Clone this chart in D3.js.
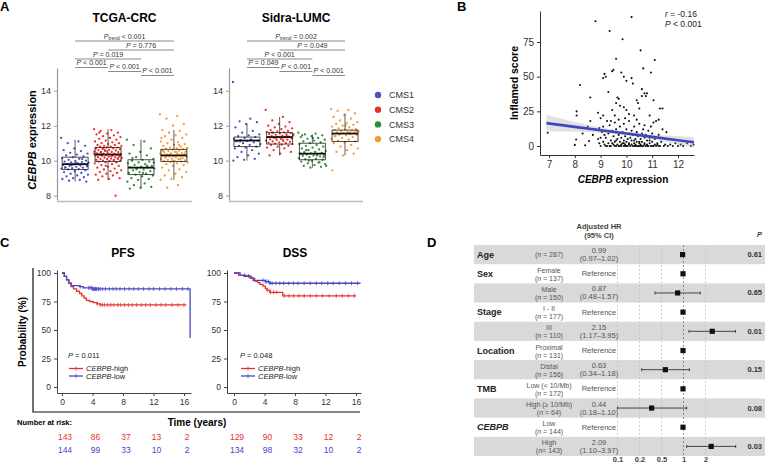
<!DOCTYPE html>
<html>
<head>
<meta charset="utf-8">
<script src="https://cdn.jsdelivr.net/npm/d3@7"></script>
<style>
  body { margin: 0; background: #fff; }
  svg { font-family: "Liberation Sans", Arial, sans-serif; display: block; }
</style>
</head>
<body>
<div id="chart"></div>
<script>
/* ---------- data ---------- */

const cmsGroups = ["CMS1", "CMS2", "CMS3", "CMS4"];
const cmsColors = ["#4b4fc4", "#e8302c", "#2f8a3a", "#f59a2c"];

// TCGA-CRC box stats: q1, median, q3, whisker ends
const tcgaQ1  = [9.5, 9.95, 9.2, 9.95];
const tcgaMed = [9.8, 10.35, 9.6, 10.3];
const tcgaQ3  = [10.2, 10.75, 10.05, 10.65];
const tcgaLo  = [8.8, 8.9, 8.4, 8.9];
const tcgaHi  = [11.2, 11.8, 11.2, 11.75];

const tcgaCms1 = [11.3,11.1,11.0,10.85,10.7,10.6,10.55,10.45,10.4,10.35,10.3,10.25,10.2,10.15,10.1,10.05,10.0,9.98,9.95,9.92,9.9,9.88,9.85,9.82,9.8,9.78,9.75,9.72,9.7,9.68,9.65,9.62,9.6,9.57,9.55,9.52,9.5,9.45,9.4,9.35,9.3,9.25,9.2,9.15,9.1,9.05,9.0,8.95,8.9,8.85,8.8,9.88,9.6,10.1,9.75];
const tcgaCms2 = [11.8,11.75,11.7,11.6,11.55,11.5,11.45,11.4,11.35,11.3,11.25,11.2,11.15,11.1,11.05,11.0,11.0,10.95,10.9,10.9,10.85,10.85,10.8,10.8,10.75,10.75,10.7,10.7,10.68,10.65,10.62,10.6,10.58,10.55,10.52,10.5,10.5,10.48,10.45,10.42,10.4,10.4,10.38,10.36,10.35,10.34,10.32,10.3,10.3,10.28,10.25,10.22,10.2,10.2,10.18,10.15,10.12,10.1,10.1,10.08,10.05,10.02,10.0,10.0,9.98,9.95,9.92,9.9,9.85,9.8,9.75,9.7,9.65,9.6,9.55,9.5,9.45,9.4,9.35,9.3,9.25,9.2,9.15,9.1,9.0,8.95,8.9,8.0,10.6,10.4,10.25,10.45,10.15,10.55,10.35,10.05,10.7,10.3,11.3,11.6,9.9,9.7];
const tcgaCms3 = [11.2,11.1,10.9,10.7,10.5,10.4,10.3,10.2,10.1,10.05,10.0,9.95,9.9,9.85,9.8,9.75,9.7,9.65,9.62,9.6,9.58,9.55,9.5,9.45,9.4,9.35,9.3,9.25,9.2,9.15,9.1,9.0,8.95,8.9,8.8,8.7,8.6,8.5,8.45,8.4,9.7,9.5,9.9,9.3,10.15];
const tcgaCms4 = [12.65,12.55,12.4,12.1,12.0,11.75,11.7,11.6,11.5,11.45,11.4,11.3,11.2,11.1,11.05,11.0,10.95,10.9,10.85,10.8,10.75,10.72,10.7,10.68,10.65,10.62,10.6,10.58,10.55,10.52,10.5,10.48,10.45,10.42,10.4,10.38,10.35,10.33,10.3,10.3,10.28,10.25,10.22,10.2,10.18,10.15,10.12,10.1,10.08,10.05,10.02,10.0,9.98,9.95,9.92,9.9,9.85,9.8,9.75,9.7,9.6,9.5,9.45,9.35,9.25,9.15,9.05,8.95,8.9,8.6,8.45,10.4,10.25,10.55,10.1,10.35,10.7,10.5,10.2,10.3,10.0,11.3,10.9];

// Sidra-LUMC box stats
const sidraQ1  = [10.8, 10.95, 10.05, 11.1];
const sidraMed = [11.15, 11.35, 10.4, 11.55];
const sidraQ3  = [11.35, 11.6, 11.0, 11.75];
const sidraLo  = [10.0, 10.3, 9.6, 10.3];
const sidraHi  = [12.1, 12.5, 11.5, 12.7];

const sidraCms1 = [14.5,12.4,12.25,12.2,12.1,11.9,11.7,11.6,11.5,11.45,11.4,11.35,11.3,11.25,11.2,11.18,11.15,11.12,11.1,11.05,11.0,10.95,10.9,10.85,10.8,10.75,10.7,10.6,10.5,10.4,10.3,10.2,10.1,10.05,10.0,11.2,11.1];
const sidraCms2 = [12.9,12.5,12.3,12.2,12.1,12.0,11.95,11.9,11.85,11.8,11.75,11.7,11.68,11.65,11.62,11.6,11.58,11.55,11.52,11.5,11.48,11.45,11.42,11.4,11.38,11.36,11.35,11.33,11.3,11.28,11.25,11.22,11.2,11.18,11.15,11.12,11.1,11.08,11.05,11.02,11.0,10.98,10.95,10.92,10.9,10.85,10.8,10.75,10.7,10.6,10.5,10.4,10.3,11.4,11.3,11.5,11.2,11.6];
const sidraCms3 = [11.6,11.55,11.5,11.45,11.4,11.35,11.3,11.25,11.2,11.15,11.1,11.05,11.0,10.95,10.9,10.85,10.8,10.75,10.7,10.65,10.6,10.55,10.5,10.48,10.45,10.42,10.4,10.38,10.35,10.32,10.3,10.28,10.25,10.2,10.15,10.1,10.08,10.05,10.0,9.95,9.9,9.85,9.8,9.75,9.7,9.65,9.6,10.4,10.3,10.6,10.2,11.3,11.45,9.9,10.0,9.7];
const sidraCms4 = [12.95,12.9,12.85,12.7,12.6,12.5,12.4,12.3,12.2,12.15,12.1,12.05,12.0,11.95,11.9,11.85,11.8,11.78,11.75,11.72,11.7,11.68,11.65,11.62,11.6,11.58,11.55,11.52,11.5,11.48,11.45,11.4,11.35,11.3,11.25,11.2,11.15,11.1,11.05,11.0,10.9,10.8,10.7,10.6,10.5,10.4,10.3,9.45,11.6,11.5,11.7,12.0,11.4];

// comparison brackets: group pairs and p-value texts
const bracketPairs = [[0,3],[1,3],[0,2],[0,1],[1,2],[2,3]];
const tcgaPvals  = ["< 0.001", "= 0.776", "= 0.019", "< 0.001", "< 0.001", "< 0.001"];
const sidraPvals = ["= 0.002", "= 0.049", "< 0.001", "= 0.049", "< 0.001", "< 0.001"];

// panel B: CEBPB expression vs inflamed score
const inflamedPoints = [
  [8.8,90],[10.2,93],[9.35,83],[9.85,77],[10.55,69],[9.6,63],[11.1,62],[9.5,55],[9.45,54],[9.8,53],
  [10.65,56],[10.95,53],[9.15,52],[9.2,50],[9.1,49],[10.0,47],[9.9,50],[10.2,49],[10.25,45],[8.2,44],
  [9.3,39],[8.6,35],[9.65,35],[9.7,34],[9.6,31],[9.75,29],[10.6,41],[10.7,38],[10.75,36],[10.6,36],
  [10.8,38],[11.05,33],[11.3,27],[11.4,27],[8.07,25],[8.07,22],[8.9,24],[9.1,22],[10.4,33],[10.45,31],
  [10.3,22],[10.9,22],[11.15,18],[11.25,19],[10.0,26],[10.1,23],[9.55,22],[9.45,26],[9.9,28],[10.5,27],
  [9.0,20],[9.25,18],
  [8.7,8],[8.8,12],[8.9,5],[8.95,2],[9.0,0],[9.05,10],[9.1,3],[9.1,14],[9.15,1],[9.2,6],
  [9.25,0],[9.3,9],[9.3,2],[9.35,15],[9.4,4],[9.4,0],[9.45,11],[9.5,1],[9.5,7],[9.55,17],
  [9.55,3],[9.6,0],[9.6,12],[9.65,5],[9.65,1],[9.7,8],[9.7,19],[9.7,0],[9.75,3],[9.75,14],
  [9.8,6],[9.8,1],[9.8,0],[9.85,10],[9.85,2],[9.9,4],[9.9,0],[9.9,16],[9.95,7],[9.95,1],
  [10.0,0],[10.0,3],[10.0,12],[10.05,5],[10.05,0],[10.1,9],[10.1,2],[10.1,18],[10.15,0],[10.15,6],
  [10.2,1],[10.2,11],[10.2,4],[10.25,0],[10.25,8],[10.3,2],[10.3,14],[10.3,0],[10.35,5],[10.35,1],
  [10.4,10],[10.4,0],[10.4,3],[10.45,7],[10.45,0],[10.5,2],[10.5,16],[10.5,0],[10.55,5],[10.55,1],
  [10.6,9],[10.6,0],[10.6,3],[10.65,12],[10.65,0],[10.7,6],[10.7,2],[10.75,0],[10.75,8],[10.8,1],
  [10.8,4],[10.85,0],[10.85,11],[10.9,2],[10.9,6],[10.95,0],[11.0,3],[11.0,9],[11.05,0],[11.1,1],
  [11.1,5],[11.15,0],[11.2,2],[11.25,8],[11.3,0],[11.35,3],[11.4,12],[11.45,0],[11.5,1],[11.55,10],
  [11.6,0],[11.7,1],[11.8,0],[11.9,2],[12.0,0],[12.1,1],[12.2,0],[12.35,2],[12.5,0],[12.6,1],
  [9.2,0],[9.35,0],[9.55,0],[9.75,0],[9.95,0],[10.35,0],[10.55,0],[10.8,0],[11.0,0],[11.25,0],
  [9.45,2],[9.6,4],[9.9,2],[10.1,1],[10.3,4],[10.5,3],[10.7,1],[10.9,4],[11.2,1],[9.0,6],
  [8.95,13],[9.15,8],[9.4,18],[9.95,20],[10.4,19],[10.7,15],[10.95,14],[11.05,17],[8.5,14],[8.3,9],
  [8.6,18],[8.05,4.7],[8.0,0.8],[8.4,0.5],[8.55,3.6],[6.95,9.6]
];
// fitted regression line and its 95% band
const fitX  = [6.9, 8, 9, 10, 11, 12, 12.62];
const fitY  = [16.5, 13.8, 11.4, 9.0, 6.6, 4.2, 2.7];
const fitLo = [10.7, 10.3, 9.5, 7.8, 5.0, 1.2, -1.1];
const fitHi = [22.3, 17.3, 13.3, 10.2, 8.2, 7.2, 6.5];

// panel C: Kaplan-Meier step points (time in years, survival %)
const pfsHighT = [0,0.3,0.6,0.9,1.2,1.5,1.9,2.3,2.6,2.9,3.2,3.6,4.1,4.6,5.0];
const pfsHighS = [100,97,94,91,88,86,84,82,80,78,76,75,74,73,72];
const pfsHighEnd = 16.3;
const pfsLowT = [0,0.3,0.6,0.9,1.2,2.3,2.8,4.0,16.8];
const pfsLowS = [100,97,94,91,89,88,87,86,43];
const pfsLowEnd = 16.8;
const pfsHighCens = [4.6,5.0,5.3,5.6,6.0,6.4,6.8,7.3,7.7,8.2,8.7,9.2,9.8,10.4,11.0,11.6,12.3,13.0,13.6,14.4,15.2,16.0];
const pfsLowCens  = [2.4,3.5,3.7,3.9,4.0,4.1,4.2,4.3,4.4,4.5,4.6,4.8,5.0,5.3,5.7,6.2,6.7,7.1,7.6,8.2,8.8,9.4,10.0,10.7,11.4,12.0,12.8,13.5,14.3,15.0,15.8,16.5];

const dssHighT = [0,0.6,1.3,2.3,2.7,3.1,3.4,3.8,4.1,4.3,4.7,6.4];
const dssHighS = [100,98,97,95.5,93,91.5,90,88.5,86.5,85,83,80];
const dssHighEnd = 16.0;
const dssLowT = [0,0.8,1.6,2.1,2.5,4.1,4.7];
const dssLowS = [100,98,97.5,95.5,93.5,92.5,91];
const dssLowEnd = 16.6;
const dssHighCens = [4.4,4.8,5.2,5.6,6.6,7.2,7.8,8.5,9.2,10.0,10.8,11.6,12.5,13.4,14.2,15.0,15.8];
const dssLowCens  = [1.4,1.9,3.8,4.1,4.3,4.5,4.7,5.0,5.5,6.0,6.5,7.2,7.8,8.4,9.2,10.0,10.8,11.5,12.3,13.0,13.8,14.6,15.4,16.2];

const riskTimes = [0, 4, 8, 12, 16];
const pfsRiskHigh = [143, 86, 37, 13, 2];
const pfsRiskLow  = [144, 99, 33, 10, 2];
const dssRiskHigh = [129, 90, 33, 12, 2];
const dssRiskLow  = [134, 98, 32, 10, 2];

// panel D: multivariable Cox model
const forestVar = ["Age", "Sex", "", "Stage", "", "Location", "", "TMB", "", "CEBPB", ""];
const forestSub = [["(n = 287)"], ["Female", "(n = 137)"], ["Male", "(n = 150)"], ["I - II", "(n = 177)"],
  ["III", "(n = 110)"], ["Proximal", "(n = 131)"], ["Distal", "(n = 156)"], ["Low (< 10/Mb)", "(n = 172)"],
  ["High (\u2265 10/Mb)", "(n = 64)"], ["Low", "(n = 144)"], ["High", "(n= 143)"]];
const forestHR = [0.99, 1, 0.87, 1, 2.15, 1, 0.63, 1, 0.44, 1, 2.09];
const forestLo = [0.97, null, 0.48, null, 1.17, null, 0.34, null, 0.18, null, 1.10];
const forestHi = [1.02, null, 1.57, null, 3.95, null, 1.18, null, 1.10, null, 3.97];
const forestP  = ["0.61", "", "0.65", "", "0.01", "", "0.15", "", "0.08", "", "0.03"];
const forestTicks = ["0.1", "0.2", "0.5", "1", "2"];

/* ---------- drawing ---------- */

const svg = d3.select("#chart").append("svg")
    .attr("width", 765)
    .attr("height", 465);

function panelLabel(t, x, y) {
    svg.append("text").attr("x", x).attr("y", y)
        .attr("font-size", 13).attr("font-weight", "bold").text(t);
}

// text with an italic leading part, e.g. "CEBPB" + "-high"
function italicLead(sel, it, rest) {
    sel.append("tspan").attr("font-style", "italic").text(it);
    sel.append("tspan").text(rest);
    return sel;
}

function styleAxis(g, color, fs) {
    g.select(".domain").attr("stroke", color);
    g.selectAll(".tick line").attr("stroke", color);
    g.selectAll(".tick text").attr("fill", "#333").attr("font-size", fs)
        .attr("font-family", "Liberation Sans, Arial, sans-serif");
}

/* ===== panel A ===== */
panelLabel("A", 0, 11);

let yA = d3.scaleLinear().domain([7.75, 15.3]).range([200, 68]);
let jit = i => ((i * 0.618034) % 1 - 0.5) * 28;

function boxPanel(x0, x1, title, points, q1, med, q3, lo, hi, pvals) {
    let x = d3.scalePoint().domain(cmsGroups).range([x0, x1]).padding(0.55);
    let g = svg.append("g");

    let yAx = g.append("g")
        .attr("transform", `translate(${x0},0)`)
        .call(d3.axisLeft(yA).tickValues([8, 10, 12, 14]).tickSize(3).tickSizeOuter(0));
    styleAxis(yAx, "#999", 9);
    yAx.select(".domain").attr("stroke-width", 1.2);

    g.append("line")
        .attr("x1", x0).attr("x2", x1).attr("y1", 201.5).attr("y2", 201.5)
        .attr("stroke", "#bbb").attr("stroke-width", 1.5);

    // jittered points
    cmsGroups.forEach((c, k) => {
        g.selectAll(".pt" + k)
            .data(points[k])
            .enter().append("circle")
            .attr("cx", (d, i) => x(c) + jit(i))
            .attr("cy", d => yA(d))
            .attr("r", 1.15)
            .attr("fill", cmsColors[k]);
    });

    // boxes
    cmsGroups.forEach((c, k) => {
        let cx = x(c);
        g.append("line").attr("x1", cx).attr("x2", cx)
            .attr("y1", yA(hi[k])).attr("y2", yA(q3[k])).attr("stroke", "#333").attr("stroke-width", 0.8);
        g.append("line").attr("x1", cx).attr("x2", cx)
            .attr("y1", yA(q1[k])).attr("y2", yA(lo[k])).attr("stroke", "#333").attr("stroke-width", 0.8);
        g.append("rect")
            .attr("x", cx - 13).attr("width", 26)
            .attr("y", yA(q3[k])).attr("height", yA(q1[k]) - yA(q3[k]))
            .attr("fill", "none").attr("stroke", "#222").attr("stroke-width", 0.8);
        g.append("line").attr("x1", cx - 13).attr("x2", cx + 13)
            .attr("y1", yA(med[k])).attr("y2", yA(med[k]))
            .attr("stroke", "#111").attr("stroke-width", 1.8);
    });

    // brackets
    let levels = [41, 50, 59, 67.5, 71.5, 75.5];
    bracketPairs.forEach((p, k) => {
        let xa = x(cmsGroups[p[0]]), xb = x(cmsGroups[p[1]]);
        g.append("line").attr("x1", xa).attr("x2", xb)
            .attr("y1", levels[k]).attr("y2", levels[k])
            .attr("stroke", "#8a8a8a").attr("stroke-width", 1.2);
        let t = g.append("text")
            .attr("x", (xa + xb) / 2).attr("y", levels[k] - 2.5)
            .attr("text-anchor", "middle").attr("font-size", 7).attr("fill", "#333");
        t.append("tspan").attr("font-style", "italic").text("P");
        if (k === 0) {
            t.append("tspan").attr("font-size", 5).attr("dy", 1.5).text("trend");
            t.append("tspan").attr("dy", -1.5).text(" " + pvals[k]);
        } else {
            t.append("tspan").text(" " + pvals[k]);
        }
    });

    g.append("text")
        .attr("x", (x(cmsGroups[0]) + x(cmsGroups[3])) / 2).attr("y", 22)
        .attr("text-anchor", "middle").attr("font-size", 12).attr("font-weight", "bold")
        .text(title);
}

boxPanel(57, 192, "TCGA-CRC", [tcgaCms1, tcgaCms2, tcgaCms3, tcgaCms4],
    tcgaQ1, tcgaMed, tcgaQ3, tcgaLo, tcgaHi, tcgaPvals);
boxPanel(229, 363, "Sidra-LUMC", [sidraCms1, sidraCms2, sidraCms3, sidraCms4],
    sidraQ1, sidraMed, sidraQ3, sidraLo, sidraHi, sidraPvals);

italicLead(svg.append("text")
    .attr("transform", "translate(36,140) rotate(-90)")
    .attr("text-anchor", "middle").attr("font-size", 11).attr("font-weight", "bold"),
    "CEBPB", " expression");

// legend
let leg = svg.append("g");
cmsGroups.forEach((c, k) => {
    let ly = 95 + k * 14.7;
    leg.append("circle").attr("cx", 378).attr("cy", ly).attr("r", 3.2).attr("fill", cmsColors[k]);
    leg.append("text").attr("x", 389).attr("y", ly + 3.3)
        .attr("font-size", 9).attr("fill", "#333").text(c);
});

/* ===== panel B ===== */
panelLabel("B", 457, 11);

let xB = d3.scaleLinear().domain([6.65, 12.62]).range([540, 694]);
let yB = d3.scaleLinear().domain([-6.5, 97.4]).range([155, 11]);

let bx = svg.append("g").attr("transform", "translate(0,155)")
    .call(d3.axisBottom(xB).tickValues([7, 8, 9, 10, 11, 12]).tickFormat(d3.format("d"))
        .tickSize(3).tickSizeOuter(0));
styleAxis(bx, "#333", 10);
let by = svg.append("g").attr("transform", "translate(540,0)")
    .call(d3.axisLeft(yB).tickValues([0, 25, 50, 75]).tickSize(3).tickSizeOuter(0));
styleAxis(by, "#333", 10);

svg.append("g").selectAll("circle")
    .data(inflamedPoints)
    .enter().append("circle")
    .attr("cx", d => xB(d[0]))
    .attr("cy", d => yB(d[1]))
    .attr("r", 1.05)
    .attr("fill", "#111");

let band = fitX.map((v, i) => ({x: v, lo: fitLo[i], hi: fitHi[i], y: fitY[i]}));
svg.append("path")
    .datum(band)
    .attr("d", d3.area().x(d => xB(d.x)).y0(d => yB(d.lo)).y1(d => yB(d.hi)).curve(d3.curveMonotoneX))
    .attr("fill", "#aaa").attr("opacity", 0.35);
svg.append("path")
    .datum(band)
    .attr("d", d3.line().x(d => xB(d.x)).y(d => yB(d.y)))
    .attr("fill", "none").attr("stroke", "#4046c0").attr("stroke-width", 2.6);

italicLead(svg.append("text").attr("x", 665).attr("y", 16.5).attr("font-size", 8.5).attr("fill", "#222"),
    "r", " = -0.16");
italicLead(svg.append("text").attr("x", 665).attr("y", 26.5).attr("font-size", 8.5).attr("fill", "#222"),
    "P", " < 0.001");

svg.append("text")
    .attr("transform", "translate(518,83) rotate(-90)")
    .attr("text-anchor", "middle").attr("font-size", 10.5).attr("font-weight", "bold")
    .text("Inflamed score");
italicLead(svg.append("text")
    .attr("x", 623).attr("y", 183)
    .attr("text-anchor", "middle").attr("font-size", 10).attr("font-weight", "bold"),
    "CEBPB", " expression");

/* ===== panel C ===== */
panelLabel("C", 0, 247);

const kmRed = "#e8302c", kmBlue = "#4646c6";
let yK = d3.scaleLinear().domain([-5.26, 102.63]).range([393, 270]);

function survAt(times, surv, t) {
    let i = d3.bisectRight(times, t) - 1;
    return surv[Math.max(0, i)];
}

function kmPanel(axisX, zeroX, title, curves, pval, riskHigh, riskLow) {
    let ppy = 7.625;
    let xK = d3.scaleLinear()
        .domain([-(zeroX - axisX) / ppy, (axisX + 134 - zeroX) / ppy])
        .range([axisX, axisX + 134]);
    let g = svg.append("g");

    let ax = g.append("g").attr("transform", "translate(0,393)")
        .call(d3.axisBottom(xK).tickValues(riskTimes).tickSize(3).tickSizeOuter(0));
    styleAxis(ax, "#444", 8.5);
    let ay = g.append("g").attr("transform", `translate(${axisX},0)`)
        .call(d3.axisLeft(yK).tickValues([0, 25, 50, 75, 100]).tickSize(3).tickSizeOuter(0));
    styleAxis(ay, "#444", 8.5);

    curves.forEach(cv => {
        let pts = cv.t.map((t, i) => [t, cv.s[i]]);
        pts.push([cv.end, cv.s[cv.s.length - 1]]);
        g.append("path")
            .datum(pts)
            .attr("d", d3.line().x(d => xK(d[0])).y(d => yK(d[1])).curve(d3.curveStepAfter))
            .attr("fill", "none").attr("stroke", cv.color).attr("stroke-width", 1.3);
        g.selectAll(null)
            .data(cv.cens)
            .enter().append("line")
            .attr("x1", d => xK(d)).attr("x2", d => xK(d))
            .attr("y1", d => yK(survAt(cv.t, cv.s, d)) - 2)
            .attr("y2", d => yK(survAt(cv.t, cv.s, d)) + 2)
            .attr("stroke", cv.color).attr("stroke-width", 0.8);
    });

    g.append("text").attr("x", xK(8)).attr("y", 257)
        .attr("text-anchor", "middle").attr("font-size", 12).attr("font-weight", "bold").text(title);

    italicLead(g.append("text").attr("x", zeroX + 6).attr("y", 358).attr("font-size", 7.5).attr("fill", "#222"),
        "P", " = " + pval);

    [["-high", kmRed, 368.5], ["-low", kmBlue, 376]].forEach(l => {
        g.append("line").attr("x1", zeroX + 7).attr("x2", zeroX + 21)
            .attr("y1", l[2]).attr("y2", l[2]).attr("stroke", l[1]).attr("stroke-width", 1.3);
        g.append("line").attr("x1", zeroX + 14).attr("x2", zeroX + 14)
            .attr("y1", l[2] - 2).attr("y2", l[2] + 2).attr("stroke", l[1]).attr("stroke-width", 0.8);
        italicLead(g.append("text").attr("x", zeroX + 24).attr("y", l[2] + 2.6)
            .attr("font-size", 7.5).attr("fill", "#222"), "CEBPB", l[0]);
    });

    // number at risk
    [[riskHigh, kmRed, 440], [riskLow, kmBlue, 453]].forEach(r => {
        g.selectAll(null)
            .data(r[0])
            .enter().append("text")
            .attr("x", (d, i) => xK(riskTimes[i]) + 3)
            .attr("y", r[2])
            .attr("text-anchor", "middle").attr("font-size", 8.5).attr("fill", r[1])
            .text(d => d);
    });
}

kmPanel(57, 62, "PFS", [
    {t: pfsHighT, s: pfsHighS, end: pfsHighEnd, cens: pfsHighCens, color: kmRed},
    {t: pfsLowT, s: pfsLowS, end: pfsLowEnd, cens: pfsLowCens, color: kmBlue}
], "0.011", pfsRiskHigh, pfsRiskLow);

kmPanel(227, 234, "DSS", [
    {t: dssHighT, s: dssHighS, end: dssHighEnd, cens: dssHighCens, color: kmRed},
    {t: dssLowT, s: dssLowS, end: dssLowEnd, cens: dssLowCens, color: kmBlue}
], "0.048", dssRiskHigh, dssRiskLow);

// outer frame of the survival panel
svg.append("path")
    .attr("d", "M33,268 V412 H360")
    .attr("fill", "none").attr("stroke", "#111").attr("stroke-width", 1.2);

svg.append("text")
    .attr("transform", "translate(26,332) rotate(-90)")
    .attr("text-anchor", "middle").attr("font-size", 10).attr("font-weight", "bold")
    .text("Probability (%)");
svg.append("text").attr("x", 17).attr("y", 425)
    .attr("font-size", 7.5).attr("font-weight", "bold").text("Number at risk:");
svg.append("text").attr("x", 197).attr("y", 426)
    .attr("text-anchor", "middle").attr("font-size", 10).attr("font-weight", "bold").text("Time (years)");

/* ===== panel D ===== */
panelLabel("D", 427, 247);

let rowsD = d3.range(forestVar.length);
let yD = d3.scaleBand().domain(rowsD).range([245, 456]);
let xHR = d3.scaleLog().base(2).domain([0.1, 4]).range([683 - 26.5 * Math.log2(10), 683 + 53]);
// the printed tick labels sit on their own evenly spaced positions in the figure
let xTick = d3.scalePoint().domain(forestTicks).range([617.5, 705.5]);

let gD = svg.append("g");

gD.selectAll(".band")
    .data(rowsD.filter(i => i % 2 === 0))
    .enter().append("rect")
    .attr("x", 474).attr("width", 291)
    .attr("y", d => yD(d)).attr("height", yD.bandwidth())
    .attr("fill", "#d9d9d9");

// grid lines
forestTicks.forEach(t => {
    gD.append("line")
        .attr("x1", xTick(t)).attr("x2", xTick(t))
        .attr("y1", 245).attr("y2", 456)
        .attr("stroke", t === "1" ? "#777" : "#c4c4c4")
        .attr("stroke-width", 0.8)
        .attr("stroke-dasharray", "2,2");
});

let xAxD = gD.append("g").attr("transform", "translate(0,455)")
    .call(d3.axisBottom(xTick).tickSize(0).tickPadding(2));
xAxD.select(".domain").remove();
xAxD.selectAll(".tick text").attr("font-size", 7.5).attr("font-weight", "bold").attr("fill", "#444")
    .attr("font-family", "Liberation Sans, Arial, sans-serif");

rowsD.forEach(i => {
    let cy = yD(i) + yD.bandwidth() / 2;

    if (forestVar[i]) {
        gD.append("text").attr("x", 477).attr("y", cy + 3)
            .attr("font-size", 9).attr("font-weight", "bold").attr("fill", "#222")
            .attr("font-style", forestVar[i] === "CEBPB" ? "italic" : "normal")
            .text(forestVar[i]);
    }

    let sub = forestSub[i];
    sub.forEach((s, j) => {
        let yy = sub.length === 1 ? cy + 2.5 : cy - 1 + j * 8;
        let t = gD.append("text").attr("x", 549).attr("y", yy)
            .attr("text-anchor", "middle").attr("font-size", 7).attr("fill", "#555");
        if (s.startsWith("(n")) {
            t.append("tspan").text("(");
            t.append("tspan").attr("font-style", "italic").text("n");
            t.append("tspan").text(s.slice(2));
        } else {
            t.text(s);
        }
    });

    if (forestLo[i] === null) {
        gD.append("text").attr("x", 599).attr("y", cy + 2.5)
            .attr("text-anchor", "middle").attr("font-size", 7.5).attr("fill", "#555").text("Reference");
    } else {
        let f = d3.format(".2f");
        gD.append("text").attr("x", 599).attr("y", cy - 1.5)
            .attr("text-anchor", "middle").attr("font-size", 7.5).attr("fill", "#555").text(f(forestHR[i]));
        gD.append("text").attr("x", 599).attr("y", cy + 6.5)
            .attr("text-anchor", "middle").attr("font-size", 7.5).attr("fill", "#555")
            .text("(" + f(forestLo[i]) + "\u2013" + f(forestHi[i]) + ")");

        gD.append("line")
            .attr("x1", xHR(forestLo[i])).attr("x2", xHR(forestHi[i]))
            .attr("y1", cy).attr("y2", cy)
            .attr("stroke", "#333").attr("stroke-width", 0.9);
        [forestLo[i], forestHi[i]].forEach(v => {
            gD.append("line")
                .attr("x1", xHR(v)).attr("x2", xHR(v))
                .attr("y1", cy - 1.5).attr("y2", cy + 1.5)
                .attr("stroke", "#333").attr("stroke-width", 0.9);
        });
    }

    gD.append("rect")
        .attr("x", xHR(forestHR[i]) - 2.6).attr("y", cy - 2.6)
        .attr("width", 5.2).attr("height", 5.2).attr("fill", "#111");

    if (forestP[i]) {
        gD.append("text").attr("x", 762).attr("y", cy + 2.5)
            .attr("text-anchor", "end").attr("font-size", 7.5).attr("font-weight", "bold").attr("fill", "#333")
            .text(forestP[i]);
    }
});

gD.append("text").attr("x", 599).attr("y", 229)
    .attr("text-anchor", "middle").attr("font-size", 7.5).attr("font-weight", "bold").attr("fill", "#444")
    .text("Adjusted HR");
gD.append("text").attr("x", 599).attr("y", 238)
    .attr("text-anchor", "middle").attr("font-size", 7.5).attr("font-weight", "bold").attr("fill", "#444")
    .text("(95% CI)");
gD.append("text").attr("x", 757).attr("y", 237)
    .attr("font-size", 7.5).attr("font-weight", "bold").attr("font-style", "italic").attr("fill", "#444")
    .text("P");
</script>
</body>
</html>
